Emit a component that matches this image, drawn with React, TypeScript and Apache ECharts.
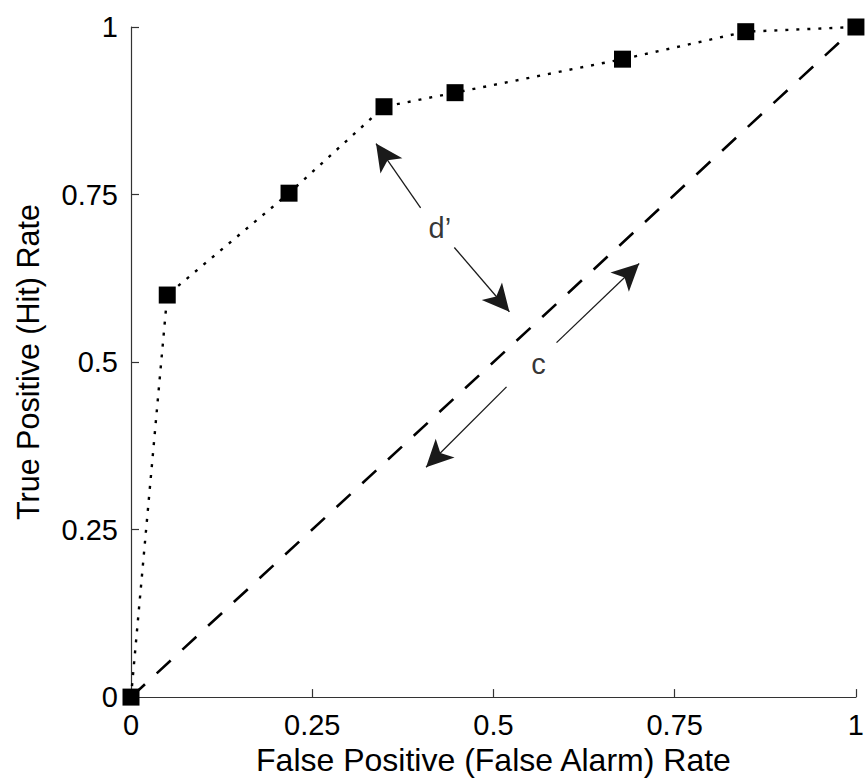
import React, { useEffect, useRef } from "react";
import * as echarts from "echarts";

const xTicks = [0, 0.25, 0.5, 0.75, 1];
const yTicks = [0, 0.25, 0.5, 0.75, 1];
const falseAlarm = [0, 0.05, 0.218, 0.349, 0.447, 0.678, 0.848, 1];
const hitRate = [0, 0.6, 0.752, 0.881, 0.902, 0.952, 0.993, 1];
const chanceX = [0, 1];
const chanceY = [0, 1];
// arrows: [fromX, fromY, toX, toY]
const arrowSegments = [
  [0.3995, 0.73, 0.338, 0.826],
  [0.446, 0.671, 0.522, 0.575],
  [0.587, 0.529, 0.701, 0.647],
  [0.518, 0.463, 0.407, 0.343],
];
const annotationText = ["d\u2019", "c"];
const annotationX = [0.426, 0.562];
const annotationY = [0.7, 0.497];

export default function App() {
  const ref = useRef<HTMLDivElement>(null);
  useEffect(() => {
    document.body.style.margin = "0";
    const chart = echarts.init(ref.current!, null, { renderer: "svg" });
    const font = "'Liberation Sans', Arial, sans-serif";
    chart.setOption({
      animation: false,
      backgroundColor: "#ffffff",
      grid: { left: 131, right: 6, top: 27, bottom: 83 },
      xAxis: {
        type: "value",
        min: 0,
        max: 1,
        interval: 0.25,
        name: "False Positive (False Alarm) Rate",
        nameLocation: "middle",
        nameGap: 46,
        nameTextStyle: { fontFamily: font, fontSize: 32, color: "#000" },
        axisLine: { show: true, lineStyle: { color: "#333", width: 1.2 } },
        axisTick: { show: true, inside: true, length: 8, lineStyle: { color: "#333", width: 1.2 } },
        axisLabel: {
          fontFamily: font,
          fontSize: 29,
          color: "#000",
          margin: 13,
          formatter: (v: number) => (xTicks.includes(v) ? String(v) : ""),
        },
        splitLine: { show: false },
      },
      yAxis: {
        type: "value",
        min: 0,
        max: 1,
        interval: 0.25,
        name: "True Positive (Hit) Rate",
        nameLocation: "middle",
        nameGap: 88,
        nameTextStyle: { fontFamily: font, fontSize: 30.5, color: "#000" },
        axisLine: { show: true, lineStyle: { color: "#333", width: 1.2 } },
        axisTick: { show: true, inside: true, length: 8, lineStyle: { color: "#333", width: 1.2 } },
        axisLabel: {
          fontFamily: font,
          fontSize: 29,
          color: "#000",
          margin: 13,
          formatter: (v: number) => (yTicks.includes(v) ? String(v) : ""),
        },
        splitLine: { show: false },
      },
      series: [
        {
          type: "line",
          data: chanceX.map((x, i) => [x, chanceY[i]]),
          showSymbol: false,
          symbol: "none",
          lineStyle: { color: "#000", width: 2.6, type: [19, 16] },
          z: 2,
          markLine: {
            silent: true,
            symbol: ["none", "arrow"],
            symbolSize: [20, 27],
            label: { show: false },
            lineStyle: { color: "#1a1a1a", width: 1.3, type: "solid" },
            data: arrowSegments.map((s) => [
              { coord: [s[0], s[1]] },
              { coord: [s[2], s[3]] },
            ]),
          },
        },
        {
          type: "line",
          data: falseAlarm.map((x, i) => [x, hitRate[i]]),
          symbol: "rect",
          symbolSize: 17,
          clip: false,
          itemStyle: { color: "#000" },
          lineStyle: { color: "#000", width: 2.4, type: [3, 8] },
          z: 3,
        },
        {
          type: "scatter",
          data: annotationX.map((x, i) => [x, annotationY[i], annotationText[i]]),
          symbolSize: 0,
          label: {
            show: true,
            position: "inside",
            formatter: (p: any) => p.data[2],
            fontFamily: font,
            fontSize: 29,
            color: "#000",
          },
          z: 4,
        },
      ],
    });
    return () => chart.dispose();
  }, []);
  return <div ref={ref} style={{ width: 867, height: 781 }} />;
}
